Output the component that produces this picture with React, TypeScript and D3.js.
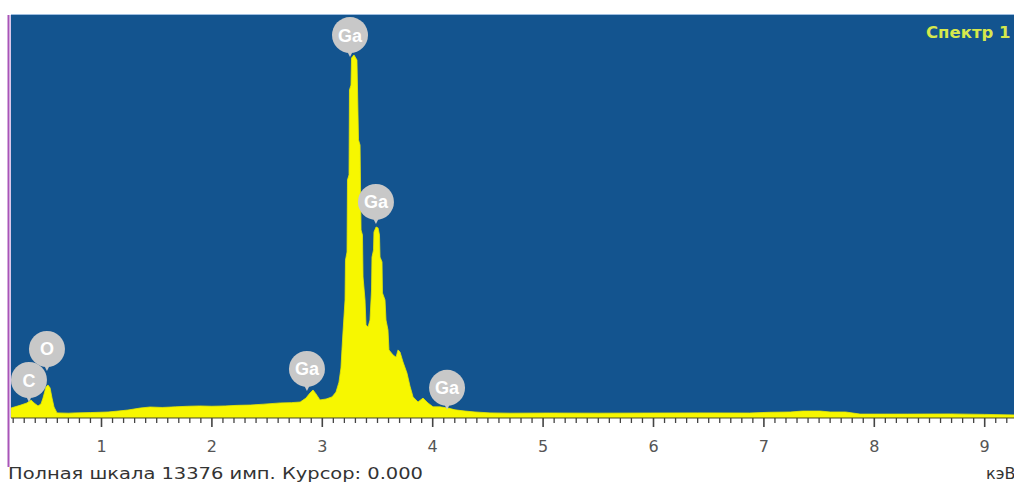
import React from "react";
import * as d3 from "d3";

// Spectrum: energy (keV) and counts
const energies = [
  0.18, 0.27, 0.325, 0.361, 0.389, 0.425, 0.452, 0.47, 0.497, 0.515, 0.534, 0.552, 0.57, 0.597,
  0.7, 0.76, 0.9, 1.06, 1.15, 1.24, 1.35, 1.44, 1.55, 1.67, 1.78, 1.89, 2.0, 2.12, 2.23, 2.35,
  2.47, 2.62, 2.72, 2.8, 2.852, 2.889, 2.916, 2.943, 2.979, 3.034, 3.088,
  3.124, 3.151, 3.169, 3.178, 3.187, 3.206, 3.21, 3.224, 3.228, 3.242, 3.246, 3.26, 3.265,
  3.287, 3.314, 3.328, 3.342, 3.351, 3.364, 3.369, 3.387, 3.396, 3.414, 3.432, 3.446, 3.45,
  3.464, 3.468, 3.487, 3.505, 3.518, 3.523, 3.541, 3.545, 3.568, 3.577, 3.595, 3.604, 3.641,
  3.668, 3.686, 3.704, 3.731, 3.767, 3.794, 3.822, 3.867, 3.912, 3.957, 4.003, 4.066, 4.139,
  4.202, 4.293, 4.383, 4.519, 4.7, 5.06, 5.5, 5.97, 6.4, 6.87, 7.05, 7.24, 7.35, 7.51, 7.6,
  7.74, 7.87, 8.3, 8.69, 9.0, 9.3,
];
const counts = [
  330, 430, 500, 600, 500, 400, 465, 660, 1030, 1095, 1000, 660, 365, 170,
  160, 170, 180, 200, 230, 265, 330, 365, 350, 370, 390, 400, 390, 400, 420, 430,
  460, 500, 510, 530, 660, 830, 930, 800, 600, 630, 700,
  860, 1190, 1660, 2260, 2820, 3920, 5240, 5510, 7900, 8070, 10890, 11050, 11950,
  12050, 11880, 9230, 9060, 6240, 6070, 4680, 3920, 3090, 3020, 3250, 4250, 5340,
  5580, 6170, 6340, 6310, 6070, 5340, 5180, 4150, 3920, 3250, 2920, 2260, 2090,
  2020, 2260, 2190, 1860, 1490, 1060, 700, 530, 660, 500, 370, 370, 330,
  270, 230, 200, 170, 160, 165, 160, 165, 170, 165, 190, 200, 230, 230, 200,
  200, 130, 130, 135, 120, 100,
];

// Element labels: name, energy (keV), counts at marker tip
const labelNames = ["C", "O", "Ga", "Ga", "Ga", "Ga"];
const labelEnergies = [0.343, 0.506, 3.251, 3.486, 2.861, 4.13];
const labelCounts = [531, 1560, 11980, 6440, 900, 270];

const xTicksMajor = [1, 2, 3, 4, 5, 6, 7, 8, 9];
const fullScale = 13376;
const title = "Спектр 1";
const footer = "Полная шкала 13376 имп. Курсор: 0.000";
const unit = "кэВ";

export default function App() {
  const W = 1014;
  const H = 482;
  const plotLeft = 11;
  const plotTop = 15;
  const plotBottom = 418;

  const x = d3.scaleLinear().domain([0, 9]).range([-8.9, 984.7]);
  const y = d3.scaleLinear().domain([0, fullScale]).range([plotBottom, plotTop]);

  const pts = energies.map((e, i) => [e, counts[i]] as [number, number]);
  const area = d3
    .area<[number, number]>()
    .x((d) => x(d[0]))
    .y0(plotBottom)
    .y1((d) => y(d[1]))
    .curve(d3.curveLinear);

  const minorTicks = d3.range(0, 94).map((i) => i / 10).filter((t) => x(t) >= plotLeft && x(t) <= W);

  const font = "'Liberation Sans', Arial, sans-serif";
  const wide = "'DejaVu Sans', Verdana, sans-serif";
  const r = 18;
  const tail = 4;

  return (
    <svg
      width={W}
      height={H}
      style={{ position: "absolute", left: 0, top: 0, background: "#ffffff" }}
    >
      <defs>
        <clipPath id="plotClip">
          <rect x={plotLeft} y={plotTop} width={W - plotLeft} height={plotBottom - plotTop} />
        </clipPath>
      </defs>
      {/* plot background */}
      <rect x={plotLeft} y={plotTop} width={W - plotLeft} height={plotBottom - plotTop} fill="#13548f" />
      <line x1={plotLeft} x2={W} y1={plotTop - 0.5} y2={plotTop - 0.5} stroke="#9dbde0" strokeWidth={1} />
      {/* left border */}
      <line x1={8.5} x2={8.5} y1={plotTop} y2={467} stroke="#a855b8" strokeWidth={2} />
      <line x1={10.5} x2={10.5} y1={plotTop} y2={plotBottom} stroke="#d9c8ec" strokeWidth={1} />

      {/* spectrum */}
      <g clipPath="url(#plotClip)">
        <path d={area(pts) || ""} fill="#f7f700" stroke="#eaea00" strokeWidth={0.8} />
      </g>
      <line x1={plotLeft} x2={W} y1={plotBottom} y2={plotBottom} stroke="#4a4a2a" strokeWidth={1.2} />

      {/* ticks */}
      <g>
        {minorTicks.map((t, i) => {
          const major = Math.abs(t - Math.round(t)) < 1e-6;
          return (
            <line
              key={i}
              x1={x(t)}
              x2={x(t)}
              y1={plotBottom}
              y2={plotBottom + (major ? 9 : 5)}
              stroke="#444"
              strokeWidth={major ? 1.6 : 1.3}
            />
          );
        })}
        {xTicksMajor.map((t) => (
          <text
            key={t}
            x={x(t)}
            y={452}
            textAnchor="middle"
            fontFamily={wide}
            fontSize={16}
            fill="#555"
          >
            {t}
          </text>
        ))}
      </g>

      {/* element labels */}
      {labelNames.map((n, i) => {
        const tx = x(labelEnergies[i]);
        const ty = y(labelCounts[i]);
        const cy = ty - r - tail;
        return (
          <g key={i}>
            <path
              d={`M${tx - 3},${cy + r - 2} L${tx},${ty} L${tx + 3},${cy + r - 2} Z`}
              fill="#c8c8c8"
            />
            <circle cx={tx} cy={cy} r={r} fill="#c8c8c8" />
            <text
              x={tx}
              y={cy + 6.5}
              textAnchor="middle"
              fontFamily={font}
              fontWeight="bold"
              fontSize={18}
              fill="#ffffff"
            >
              {n}
            </text>
          </g>
        );
      })}

      {/* title */}
      <text x={926} y={38} fontFamily={wide} fontWeight="bold" fontSize={16.5} fill="#d6e84c">
        {title}
      </text>

      {/* footer */}
      <text
        x={8}
        y={479}
        fontFamily={wide}
        fontSize={16}
        fill="#333"
        textLength={415}
        lengthAdjust="spacingAndGlyphs"
      >
        {footer}
      </text>
      <text x={986} y={479} fontFamily={wide} fontSize={16} fill="#333">
        {unit}
      </text>
    </svg>
  );
}
